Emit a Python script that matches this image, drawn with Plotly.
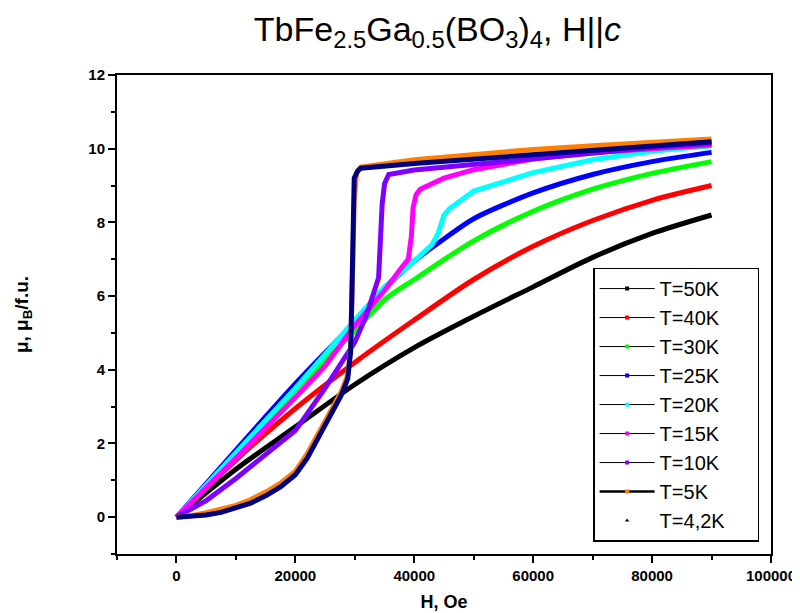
import plotly.graph_objects as go

# Field H (Oe) and moment (mu_B / f.u.)
H_50 = [0, 10000, 20000, 30000, 40000, 50000, 60000, 70000, 80000, 90000]
M_50 = [0, 1.3, 2.45, 3.6, 4.6, 5.45, 6.25, 7.05, 7.7, 8.2]

H_40 = [0, 10000, 20000, 30000, 40000, 50000, 60000, 70000, 80000, 90000]
M_40 = [0, 1.55, 2.95, 4.2, 5.35, 6.45, 7.35, 8.05, 8.6, 9.0]

H_30 = [0, 10000, 20000, 30000, 35000, 40000, 50000, 60000, 70000, 80000, 90000]
M_30 = [0, 1.7, 3.45, 5.05, 5.9, 6.45, 7.5, 8.3, 8.9, 9.33, 9.65]

H_25 = [0, 10000, 20000, 30000, 35000, 40000, 45000, 50000, 60000, 70000, 80000, 90000]
M_25 = [0, 1.82, 3.62, 5.3, 6.2, 6.95, 7.55, 8.1, 8.8, 9.3, 9.65, 9.9]

H_20 = [0, 10000, 20000, 30000, 35000, 40000, 43000, 44000, 45000, 46000, 50000, 60000, 70000, 80000, 90000]
M_20 = [0, 1.75, 3.5, 5.35, 6.25, 6.95, 7.4, 7.7, 8.2, 8.38, 8.85, 9.35, 9.7, 9.93, 10.08]

H_15 = [0, 10000, 20000, 25000, 30000, 35000, 38000, 39000, 39500, 39800, 40300, 41000, 45000, 50000, 60000, 70000, 80000, 90000]
M_15 = [0, 1.6, 3.25, 4.1, 5.2, 6.15, 6.8, 7.0, 7.6, 8.4, 8.75, 8.9, 9.2, 9.43, 9.72, 9.9, 10.0, 10.1]

H_10 = [0, 5000, 10000, 15000, 20000, 25000, 30000, 32000, 34000, 34300, 34600, 35000, 35700, 40000, 50000, 60000, 70000, 80000, 90000]
M_10 = [0, 0.45, 1.05, 1.7, 2.35, 3.5, 4.75, 5.5, 6.5, 7.5, 8.5, 9.05, 9.3, 9.42, 9.57, 9.75, 9.9, 10.03, 10.15]

H_5 = [0, 2500, 5000, 7500, 10000, 12500, 15000, 17500, 20000, 22000, 24000, 26000, 27700, 28800, 29300, 29600, 29900, 30300, 31000, 40000, 50000, 60000, 70000, 80000, 90000]
M_5 = [0, 0.04, 0.12, 0.21, 0.32, 0.48, 0.68, 0.92, 1.25, 1.72, 2.3, 2.9, 3.4, 3.85, 4.6, 6.5, 8.6, 9.35, 9.5, 9.7, 9.85, 9.98, 10.08, 10.17, 10.26]

H_42 = [0, 2500, 5000, 7500, 10000, 12500, 15000, 17500, 20000, 22000, 24000, 26000, 27700, 28800, 29300, 29500, 29700, 29900, 30500, 31000, 40000, 52000, 60000, 70000, 80000, 90000]
M_42 = [0, 0.02, 0.06, 0.13, 0.24, 0.38, 0.58, 0.82, 1.15, 1.6, 2.2, 2.8, 3.3, 3.75, 4.5, 6.0, 8.0, 9.2, 9.4, 9.47, 9.6, 9.74, 9.85, 9.97, 10.08, 10.19]

labels = ["T=50K", "T=40K", "T=30K", "T=25K", "T=20K", "T=15K", "T=10K", "T=5K", "T=4,2K"]
colors = ["#000000", "#ff0000", "#00ff00", "#0000ff", "#00ffff", "#ff00ff", "#8000ff", "#ff8000", "#000080"]
series = [(H_50, M_50), (H_40, M_40), (H_30, M_30), (H_25, M_25), (H_20, M_20),
          (H_15, M_15), (H_10, M_10), (H_5, M_5), (H_42, M_42)]
smooth = [True, True, True, True, False, False, False, False, False]

fig = go.Figure()

for (hx, my), c, s in zip(series, colors, smooth):
    fig.add_trace(go.Scatter(x=hx, y=my, mode="lines",
                             line=dict(color=c, width=5,
                                       shape="spline" if s else "linear",
                                       smoothing=0.8 if s else None),
                             showlegend=False, hoverinfo="skip"))

# legend entries (padded on the right like the reference box)
pad = "\u00a0" * 5
for i, (c, lab) in enumerate(zip(colors, labels)):
    if lab == "T=4,2K":
        fig.add_trace(go.Scatter(x=[None], y=[None], mode="markers", name=lab + pad,
                                 marker=dict(color=c, size=4, symbol="triangle-up")))
    else:
        fig.add_trace(go.Scatter(x=[None], y=[None], mode="lines+markers", name=lab + pad,
                                 line=dict(color="black", width=2.5 if lab == "T=5K" else 1),
                                 marker=dict(color=c, size=4, symbol="square")))

fig.update_layout(
    width=800, height=613,
    paper_bgcolor="white", plot_bgcolor="white",
    margin=dict(l=107, r=35, t=67, b=63),
    title=dict(text="TbFe<sub>2.5</sub>Ga<sub>0.5</sub>(BO<sub>3</sub>)<sub>4</sub>, H||<i>c</i>",
               x=0.49, xref="paper", xanchor="center",
               y=0.966, yref="container", yanchor="middle",
               font=dict(family="Liberation Sans, Arial", size=34, color="black")),
    legend=dict(x=0.728, y=0.598, xanchor="left", yanchor="top",
                bgcolor="white", bordercolor="black", borderwidth=1.5,
                font=dict(family="Liberation Sans, Arial", size=20, color="black"),
                itemwidth=55),
    showlegend=True,
)

fig.update_xaxes(range=[-10000, 100000], tickmode="linear", tick0=0, dtick=20000,
                 tickformat="d",
                 ticks="outside", ticklen=7, tickwidth=2, tickcolor="black",
                 minor=dict(dtick=10000, tick0=0, ticks="outside", ticklen=4, tickwidth=2, tickcolor="black"),
                 showline=True, linewidth=2, linecolor="black", mirror=True,
                 showgrid=False, zeroline=False,
                 tickfont=dict(family="Liberation Sans, Arial", size=15, color="black", weight="bold"),
                 title=dict(text="<b>H, Oe</b>", standoff=12,
                            font=dict(family="Liberation Sans, Arial", size=18, color="black")))

fig.update_yaxes(range=[-1, 12], tickmode="linear", tick0=0, dtick=2,
                 ticks="outside", ticklen=7, tickwidth=2, tickcolor="black",
                 minor=dict(dtick=1, tick0=0, ticks="outside", ticklen=4, tickwidth=2, tickcolor="black"),
                 showline=True, linewidth=2, linecolor="black", mirror=True,
                 showgrid=False, zeroline=False,
                 tickfont=dict(family="Liberation Sans, Arial", size=15, color="black", weight="bold"),
                 title=dict(text="<b>μ, μ<sub>B</sub>/f.u.</b>", standoff=55,
                            font=dict(family="Liberation Sans, Arial", size=19, color="black")))

fig.write_html("out.html")
